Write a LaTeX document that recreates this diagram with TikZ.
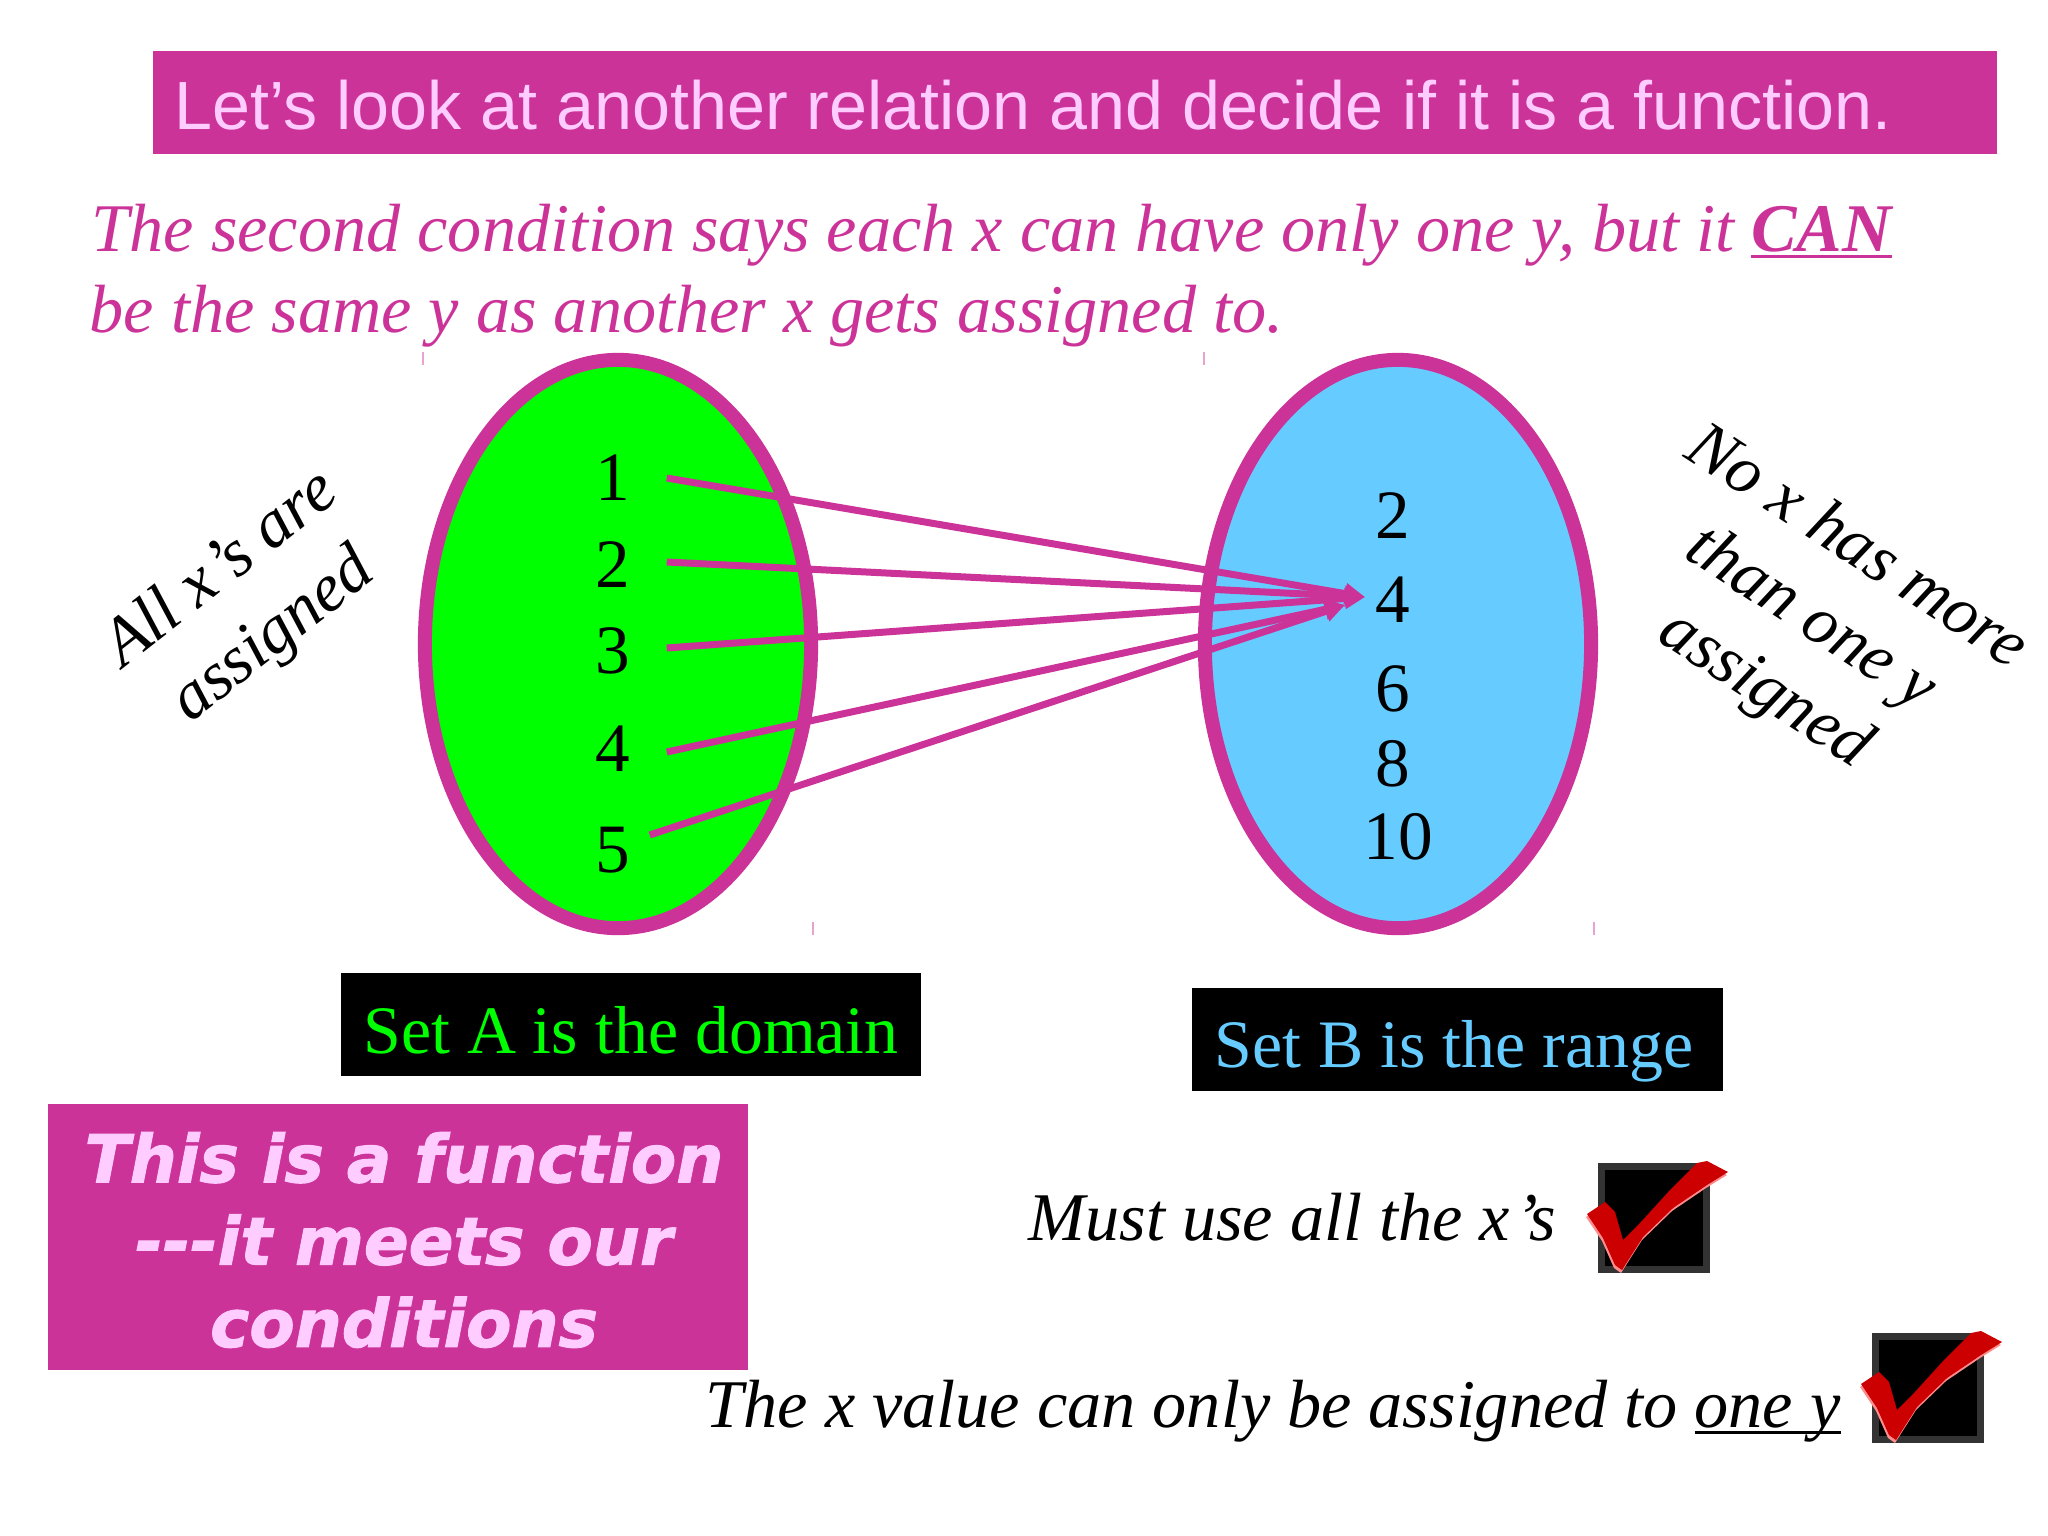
\documentclass[tikz,border=0pt]{standalone}
\usepackage{fontspec}
\setmainfont{Liberation Serif}
\setsansfont{Liberation Sans}
\newfontfamily\heavyfont[BoldItalicFeatures={FakeBold=1.5}]{DejaVu Sans}
\usetikzlibrary{shapes.geometric, arrows.meta}
\definecolor{magentabar}{HTML}{CC3399}
\definecolor{palepink}{HTML}{FFCCFF}
\definecolor{skyset}{HTML}{66CCFF}
\definecolor{greenset}{HTML}{00FF00}
\definecolor{checkred}{HTML}{CC0000}
\newcommand{\thickul}[1]{\sbox0{#1}\rlap{\vrule width\wd0 height-1.1pt depth2pt}\usebox0}
\newcommand{\checkshape}{(1587,1214) -- (1605,1202) -- (1615,1212) -- (1623,1240) -- (1640,1223) -- (1670,1190) -- (1697,1163) -- (1707,1161) -- (1728,1172) -- (1707,1185) -- (1673,1208) -- (1643,1237) -- (1622,1270) -- (1615,1265) -- (1603,1238) -- (1593,1223) -- cycle}
\tikzset{
  setoval/.style={ellipse, draw=magentabar, line width=0.14cm, minimum width=3.86cm, minimum height=5.68cm, inner sep=0pt},
  num/.style={font=\fontsize{19.7}{20}\selectfont, inner xsep=0.1cm, inner ysep=0pt},
  assign/.style={draw=magentabar, line width=0.07cm, -{Triangle[length=0.2cm, width=0.2cm]}},
  slant/.style={anchor=base west, inner sep=0pt, font=\fontsize{19.4}{20}\selectfont\itshape},
  tilted/.style={align=center, inner sep=0pt, font=\fontsize{19.3}{24}\selectfont\itshape},
  labelbox/.style={fill=black, inner sep=0pt, minimum height=1.03cm},
  labeltext/.style={anchor=base, inner sep=0pt, font=\fontsize{19.3}{20}\selectfont},
  tick/.style={draw=magentabar!45, line width=0.015cm},
}
\begin{document}
\begin{tikzpicture}[x=0.01cm, y=-0.01cm]
  \useasboundingbox (0,0) rectangle (2048,1536);

  % heading
  \node[fill=magentabar, minimum width=18.42cm, minimum height=1.03cm, inner sep=0pt] (head) at (1075,102.5) {};
  \node[anchor=base west, inner sep=0pt, text=palepink, font=\fontsize{19.4}{19}\selectfont\sffamily] (headtext) at (174,129) {Let’s look at another relation and decide if it is a function.};

  \node[slant, text=magentabar] (line1) at (91,251) {The second condition says each x can have only one y, but it \thickul{\textbf{CAN}}};
  \node[slant, text=magentabar] (line2) at (89,332) {be the same y as another x gets assigned to.};

  % stray marks
  \draw[tick] (423,352) -- (423,365);
  \draw[tick] (1204,352) -- (1204,365);
  \draw[tick] (813,922) -- (813,935);
  \draw[tick] (1594,922) -- (1594,935);

  % the two sets
  \node[setoval, fill=greenset] (setA) at (618,644) {};
  \node[setoval, fill=skyset] (setB) at (1398,644) {};

  \node[num, minimum width=1.06cm] (a1) at (613,478) {1};
  \node[num, minimum width=1.06cm] (a2) at (613,565) {2};
  \node[num, minimum width=1.06cm] (a3) at (613,651) {3};
  \node[num, minimum width=1.06cm] (a4) at (613,749) {4};
  \node[num, minimum width=0.72cm] (a5) at (613,850) {5};

  \node[num] (b2) at (1393,516) {2};
  \node[num] (b4) at (1393,600) {4};
  \node[num] (b6) at (1393,689) {6};
  \node[num] (b8) at (1393,764) {8};
  \node[num] (b10) at (1398,837) {10};

  \path (b4.west) ++(-20,5) coordinate (low);
  \draw[assign] (a1.east) -- ([yshift=0.03cm]b4.west);
  \draw[assign] ([yshift=0.03cm]a2.east) -- ([yshift=0.03cm]b4.west);
  \draw[assign] ([yshift=0.03cm]a3.east) -- ([yshift=0.03cm]b4.west);
  \draw[assign] ([yshift=-0.03cm]a4.east) -- (low);
  \draw[assign] ([yshift=0.15cm]a5.east) -- (low);

  % side remarks
  \node[tilted, rotate=38] (leftnote) at (248,604) {All x\kern1.5pt’s are\\assigned};
  \node[tilted, rotate=-33] (rightnote) at (1810,620) {No x has more\\than one y\\assigned};

  % labels
  \node[labelbox, minimum width=5.8cm] (labelA) at (631,1024.5) {};
  \node[labeltext, text=greenset] (textA) at (631,1053) {Set A is the domain};
  \node[labelbox, minimum width=5.31cm] (labelB) at (1457.5,1039.5) {};
  \node[labeltext, text=skyset] (textB) at (1454,1067) {Set B is the range};

  \node[fill=magentabar, minimum width=7cm, minimum height=2.66cm, inner sep=0pt] (verdict) at (398,1237) {};
  \node[align=center, inner sep=0pt, text=palepink, font=\fontsize{18.8}{23.4}\selectfont\heavyfont\bfseries\itshape] (verdicttext) at (404,1240) {This is a function\\---it meets our\\conditions};

  \node[anchor=base west, inner sep=0pt, font=\fontsize{19.4}{19}\selectfont\itshape] (must1) at (1028,1240) {Must use all the x\kern1.5pt’s};
  \node[anchor=base west, inner sep=0pt, font=\fontsize{19.4}{19}\selectfont\itshape] (must2) at (705,1427) {The x value can only be assigned to \thickul{one y}};

  % check boxes
  \foreach \i/\dx/\dy in {1/0/0, 2/274/170} {
    \begin{scope}[shift={(\dx,\dy)}]
      \node[draw=black!80, fill=black, line width=0.07cm, minimum width=1.05cm, minimum height=1.03cm, inner sep=0pt] (box\i) at (1654,1218) {};
      \fill[red!45, shift={(-1,3)}] \checkshape;
      \fill[checkred] \checkshape;
    \end{scope}
  }
\end{tikzpicture}
\end{document}
